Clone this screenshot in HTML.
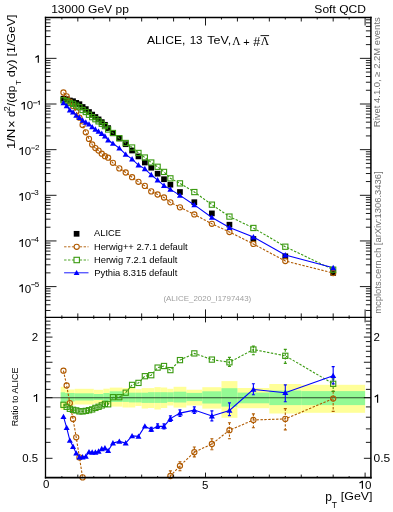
<!DOCTYPE html>
<html><head><meta charset="utf-8"><style>
html,body{margin:0;padding:0;background:#fff;width:393px;height:512px;overflow:hidden;}
svg{display:block;will-change:transform;}
</style></head><body>
<svg width="393" height="512" viewBox="0 0 393 512">
<rect x="0" y="0" width="393" height="512" fill="#fff"/>
<defs><clipPath id="cm"><rect x="45.50" y="17.50" width="325.40" height="299.90"/></clipPath>
<clipPath id="cr"><rect x="45.50" y="317.40" width="325.40" height="160.20"/></clipPath></defs>
<g clip-path="url(#cr)">
<rect x="60.70" y="386.80" width="4.35" height="22.90" fill="#ffff99"/>
<rect x="65.05" y="389.50" width="9.58" height="16.00" fill="#ffff99"/>
<rect x="74.63" y="388.80" width="19.15" height="15.70" fill="#ffff99"/>
<rect x="93.78" y="389.80" width="9.58" height="13.70" fill="#ffff99"/>
<rect x="103.36" y="388.70" width="6.38" height="15.80" fill="#ffff99"/>
<rect x="109.74" y="387.60" width="12.77" height="19.00" fill="#ffff99"/>
<rect x="122.51" y="388.00" width="6.38" height="19.50" fill="#ffff99"/>
<rect x="128.89" y="387.60" width="6.38" height="19.90" fill="#ffff99"/>
<rect x="135.28" y="389.20" width="6.38" height="16.80" fill="#ffff99"/>
<rect x="141.66" y="388.10" width="6.38" height="20.40" fill="#ffff99"/>
<rect x="148.04" y="388.10" width="6.38" height="19.90" fill="#ffff99"/>
<rect x="154.43" y="387.10" width="6.38" height="22.40" fill="#ffff99"/>
<rect x="160.81" y="387.50" width="6.38" height="20.50" fill="#ffff99"/>
<rect x="167.20" y="388.80" width="6.38" height="16.70" fill="#ffff99"/>
<rect x="173.58" y="386.80" width="12.77" height="20.80" fill="#ffff99"/>
<rect x="186.35" y="389.70" width="15.96" height="15.80" fill="#ffff99"/>
<rect x="202.31" y="387.20" width="19.15" height="21.40" fill="#ffff99"/>
<rect x="221.46" y="381.10" width="15.96" height="36.70" fill="#ffff99"/>
<rect x="237.42" y="388.00" width="31.92" height="20.20" fill="#ffff99"/>
<rect x="269.34" y="384.00" width="31.92" height="29.50" fill="#ffff99"/>
<rect x="301.26" y="384.80" width="63.84" height="28.00" fill="#ffff99"/>
<rect x="60.70" y="392.30" width="4.35" height="10.20" fill="#94fa94"/>
<rect x="65.05" y="393.00" width="9.58" height="8.50" fill="#94fa94"/>
<rect x="74.63" y="393.30" width="19.15" height="7.20" fill="#94fa94"/>
<rect x="93.78" y="394.00" width="9.58" height="6.00" fill="#94fa94"/>
<rect x="103.36" y="393.00" width="6.38" height="8.00" fill="#94fa94"/>
<rect x="109.74" y="391.30" width="12.77" height="10.70" fill="#94fa94"/>
<rect x="122.51" y="393.20" width="6.38" height="8.70" fill="#94fa94"/>
<rect x="128.89" y="392.70" width="6.38" height="9.70" fill="#94fa94"/>
<rect x="135.28" y="392.70" width="6.38" height="9.70" fill="#94fa94"/>
<rect x="141.66" y="392.70" width="6.38" height="10.20" fill="#94fa94"/>
<rect x="148.04" y="392.20" width="6.38" height="10.70" fill="#94fa94"/>
<rect x="154.43" y="392.20" width="6.38" height="10.70" fill="#94fa94"/>
<rect x="160.81" y="392.20" width="6.38" height="10.70" fill="#94fa94"/>
<rect x="167.20" y="392.30" width="6.38" height="9.60" fill="#94fa94"/>
<rect x="173.58" y="391.70" width="12.77" height="10.80" fill="#94fa94"/>
<rect x="186.35" y="392.90" width="15.96" height="8.20" fill="#94fa94"/>
<rect x="202.31" y="391.30" width="19.15" height="12.20" fill="#94fa94"/>
<rect x="221.46" y="388.20" width="15.96" height="18.40" fill="#94fa94"/>
<rect x="237.42" y="392.60" width="31.92" height="10.70" fill="#94fa94"/>
<rect x="269.34" y="390.60" width="31.92" height="14.50" fill="#94fa94"/>
<rect x="301.26" y="391.10" width="63.84" height="14.00" fill="#94fa94"/>
</g>
<line x1="45.50" y1="397.70" x2="370.90" y2="397.70" stroke="#000" stroke-opacity="0.7" stroke-width="1.1"/>
<line clip-path="url(#cr)" x1="170.39" y1="470.90" x2="170.39" y2="481.40" stroke="#b05a00" stroke-width="1.1" stroke-dasharray="2.4,1.5"/>
<line clip-path="url(#cr)" x1="168.89" y1="470.90" x2="171.89" y2="470.90" stroke="#b05a00" stroke-width="1.1"/>
<line clip-path="url(#cr)" x1="168.89" y1="481.40" x2="171.89" y2="481.40" stroke="#b05a00" stroke-width="1.1"/>
<line clip-path="url(#cr)" x1="179.96" y1="461.80" x2="179.96" y2="470.70" stroke="#b05a00" stroke-width="1.1" stroke-dasharray="2.4,1.5"/>
<line clip-path="url(#cr)" x1="178.46" y1="461.80" x2="181.46" y2="461.80" stroke="#b05a00" stroke-width="1.1"/>
<line clip-path="url(#cr)" x1="178.46" y1="470.70" x2="181.46" y2="470.70" stroke="#b05a00" stroke-width="1.1"/>
<line clip-path="url(#cr)" x1="194.33" y1="447.00" x2="194.33" y2="456.90" stroke="#b05a00" stroke-width="1.1" stroke-dasharray="2.4,1.5"/>
<line clip-path="url(#cr)" x1="192.83" y1="447.00" x2="195.83" y2="447.00" stroke="#b05a00" stroke-width="1.1"/>
<line clip-path="url(#cr)" x1="192.83" y1="456.90" x2="195.83" y2="456.90" stroke="#b05a00" stroke-width="1.1"/>
<line clip-path="url(#cr)" x1="211.88" y1="438.80" x2="211.88" y2="449.80" stroke="#b05a00" stroke-width="1.1" stroke-dasharray="2.4,1.5"/>
<line clip-path="url(#cr)" x1="210.38" y1="438.80" x2="213.38" y2="438.80" stroke="#b05a00" stroke-width="1.1"/>
<line clip-path="url(#cr)" x1="210.38" y1="449.80" x2="213.38" y2="449.80" stroke="#b05a00" stroke-width="1.1"/>
<line clip-path="url(#cr)" x1="229.44" y1="422.70" x2="229.44" y2="438.80" stroke="#b05a00" stroke-width="1.1" stroke-dasharray="2.4,1.5"/>
<line clip-path="url(#cr)" x1="227.94" y1="422.70" x2="230.94" y2="422.70" stroke="#b05a00" stroke-width="1.1"/>
<line clip-path="url(#cr)" x1="227.94" y1="438.80" x2="230.94" y2="438.80" stroke="#b05a00" stroke-width="1.1"/>
<line clip-path="url(#cr)" x1="253.38" y1="413.90" x2="253.38" y2="427.70" stroke="#b05a00" stroke-width="1.1" stroke-dasharray="2.4,1.5"/>
<line clip-path="url(#cr)" x1="251.88" y1="413.90" x2="254.88" y2="413.90" stroke="#b05a00" stroke-width="1.1"/>
<line clip-path="url(#cr)" x1="251.88" y1="427.70" x2="254.88" y2="427.70" stroke="#b05a00" stroke-width="1.1"/>
<line clip-path="url(#cr)" x1="285.30" y1="408.60" x2="285.30" y2="429.90" stroke="#b05a00" stroke-width="1.1" stroke-dasharray="2.4,1.5"/>
<line clip-path="url(#cr)" x1="283.80" y1="408.60" x2="286.80" y2="408.60" stroke="#b05a00" stroke-width="1.1"/>
<line clip-path="url(#cr)" x1="283.80" y1="429.90" x2="286.80" y2="429.90" stroke="#b05a00" stroke-width="1.1"/>
<line clip-path="url(#cr)" x1="333.18" y1="391.40" x2="333.18" y2="411.40" stroke="#b05a00" stroke-width="1.1" stroke-dasharray="2.4,1.5"/>
<line clip-path="url(#cr)" x1="331.68" y1="391.40" x2="334.68" y2="391.40" stroke="#b05a00" stroke-width="1.1"/>
<line clip-path="url(#cr)" x1="331.68" y1="411.40" x2="334.68" y2="411.40" stroke="#b05a00" stroke-width="1.1"/>
<line clip-path="url(#cr)" x1="229.44" y1="357.40" x2="229.44" y2="366.40" stroke="#3a9a10" stroke-width="1.1" stroke-dasharray="2.4,1.5"/>
<line clip-path="url(#cr)" x1="227.94" y1="357.40" x2="230.94" y2="357.40" stroke="#3a9a10" stroke-width="1.1"/>
<line clip-path="url(#cr)" x1="227.94" y1="366.40" x2="230.94" y2="366.40" stroke="#3a9a10" stroke-width="1.1"/>
<line clip-path="url(#cr)" x1="253.38" y1="346.00" x2="253.38" y2="354.70" stroke="#3a9a10" stroke-width="1.1" stroke-dasharray="2.4,1.5"/>
<line clip-path="url(#cr)" x1="251.88" y1="346.00" x2="254.88" y2="346.00" stroke="#3a9a10" stroke-width="1.1"/>
<line clip-path="url(#cr)" x1="251.88" y1="354.70" x2="254.88" y2="354.70" stroke="#3a9a10" stroke-width="1.1"/>
<line clip-path="url(#cr)" x1="285.30" y1="349.40" x2="285.30" y2="363.40" stroke="#3a9a10" stroke-width="1.1" stroke-dasharray="2.4,1.5"/>
<line clip-path="url(#cr)" x1="283.80" y1="349.40" x2="286.80" y2="349.40" stroke="#3a9a10" stroke-width="1.1"/>
<line clip-path="url(#cr)" x1="283.80" y1="363.40" x2="286.80" y2="363.40" stroke="#3a9a10" stroke-width="1.1"/>
<line clip-path="url(#cr)" x1="333.18" y1="378.90" x2="333.18" y2="391.40" stroke="#3a9a10" stroke-width="1.1" stroke-dasharray="2.4,1.5"/>
<line clip-path="url(#cr)" x1="331.68" y1="378.90" x2="334.68" y2="378.90" stroke="#3a9a10" stroke-width="1.1"/>
<line clip-path="url(#cr)" x1="331.68" y1="391.40" x2="334.68" y2="391.40" stroke="#3a9a10" stroke-width="1.1"/>
<line clip-path="url(#cr)" x1="151.24" y1="427.40" x2="151.24" y2="431.40" stroke="#0000ff" stroke-width="1.1"/>
<line clip-path="url(#cr)" x1="149.74" y1="427.40" x2="152.74" y2="427.40" stroke="#0000ff" stroke-width="1.1"/>
<line clip-path="url(#cr)" x1="149.74" y1="431.40" x2="152.74" y2="431.40" stroke="#0000ff" stroke-width="1.1"/>
<line clip-path="url(#cr)" x1="157.62" y1="423.90" x2="157.62" y2="428.40" stroke="#0000ff" stroke-width="1.1"/>
<line clip-path="url(#cr)" x1="156.12" y1="423.90" x2="159.12" y2="423.90" stroke="#0000ff" stroke-width="1.1"/>
<line clip-path="url(#cr)" x1="156.12" y1="428.40" x2="159.12" y2="428.40" stroke="#0000ff" stroke-width="1.1"/>
<line clip-path="url(#cr)" x1="164.00" y1="423.90" x2="164.00" y2="428.90" stroke="#0000ff" stroke-width="1.1"/>
<line clip-path="url(#cr)" x1="162.50" y1="423.90" x2="165.50" y2="423.90" stroke="#0000ff" stroke-width="1.1"/>
<line clip-path="url(#cr)" x1="162.50" y1="428.90" x2="165.50" y2="428.90" stroke="#0000ff" stroke-width="1.1"/>
<line clip-path="url(#cr)" x1="170.39" y1="415.90" x2="170.39" y2="421.40" stroke="#0000ff" stroke-width="1.1"/>
<line clip-path="url(#cr)" x1="168.89" y1="415.90" x2="171.89" y2="415.90" stroke="#0000ff" stroke-width="1.1"/>
<line clip-path="url(#cr)" x1="168.89" y1="421.40" x2="171.89" y2="421.40" stroke="#0000ff" stroke-width="1.1"/>
<line clip-path="url(#cr)" x1="179.96" y1="409.90" x2="179.96" y2="416.40" stroke="#0000ff" stroke-width="1.1"/>
<line clip-path="url(#cr)" x1="178.46" y1="409.90" x2="181.46" y2="409.90" stroke="#0000ff" stroke-width="1.1"/>
<line clip-path="url(#cr)" x1="178.46" y1="416.40" x2="181.46" y2="416.40" stroke="#0000ff" stroke-width="1.1"/>
<line clip-path="url(#cr)" x1="194.33" y1="406.90" x2="194.33" y2="413.40" stroke="#0000ff" stroke-width="1.1"/>
<line clip-path="url(#cr)" x1="192.83" y1="406.90" x2="195.83" y2="406.90" stroke="#0000ff" stroke-width="1.1"/>
<line clip-path="url(#cr)" x1="192.83" y1="413.40" x2="195.83" y2="413.40" stroke="#0000ff" stroke-width="1.1"/>
<line clip-path="url(#cr)" x1="211.88" y1="410.90" x2="211.88" y2="420.90" stroke="#0000ff" stroke-width="1.1"/>
<line clip-path="url(#cr)" x1="210.38" y1="410.90" x2="213.38" y2="410.90" stroke="#0000ff" stroke-width="1.1"/>
<line clip-path="url(#cr)" x1="210.38" y1="420.90" x2="213.38" y2="420.90" stroke="#0000ff" stroke-width="1.1"/>
<line clip-path="url(#cr)" x1="229.44" y1="402.90" x2="229.44" y2="415.60" stroke="#0000ff" stroke-width="1.1"/>
<line clip-path="url(#cr)" x1="227.94" y1="402.90" x2="230.94" y2="402.90" stroke="#0000ff" stroke-width="1.1"/>
<line clip-path="url(#cr)" x1="227.94" y1="415.60" x2="230.94" y2="415.60" stroke="#0000ff" stroke-width="1.1"/>
<line clip-path="url(#cr)" x1="253.38" y1="383.80" x2="253.38" y2="394.80" stroke="#0000ff" stroke-width="1.1"/>
<line clip-path="url(#cr)" x1="251.88" y1="383.80" x2="254.88" y2="383.80" stroke="#0000ff" stroke-width="1.1"/>
<line clip-path="url(#cr)" x1="251.88" y1="394.80" x2="254.88" y2="394.80" stroke="#0000ff" stroke-width="1.1"/>
<line clip-path="url(#cr)" x1="285.30" y1="384.90" x2="285.30" y2="401.70" stroke="#0000ff" stroke-width="1.1"/>
<line clip-path="url(#cr)" x1="283.80" y1="384.90" x2="286.80" y2="384.90" stroke="#0000ff" stroke-width="1.1"/>
<line clip-path="url(#cr)" x1="283.80" y1="401.70" x2="286.80" y2="401.70" stroke="#0000ff" stroke-width="1.1"/>
<line clip-path="url(#cr)" x1="333.18" y1="366.60" x2="333.18" y2="383.90" stroke="#0000ff" stroke-width="1.1"/>
<line clip-path="url(#cr)" x1="331.68" y1="366.60" x2="334.68" y2="366.60" stroke="#0000ff" stroke-width="1.1"/>
<line clip-path="url(#cr)" x1="331.68" y1="383.90" x2="334.68" y2="383.90" stroke="#0000ff" stroke-width="1.1"/>
<polyline clip-path="url(#cr)" points="63.46,370.70 66.65,385.50 69.84,403.10 73.03,419.00 76.22,437.30 79.42,457.40 82.61,477.40 85.80,500.40 88.99,516.72 92.18,529.95 95.38,535.24 98.57,535.68 101.76,537.44 104.95,536.56 108.14,528.63 112.93,528.63 119.32,530.39 125.70,522.89 132.08,515.84 138.47,510.10 144.85,501.29 151.24,502.61 157.62,489.82 164.00,478.80 170.39,476.00 179.96,465.80 194.33,452.20 211.88,444.00 229.44,430.20 253.38,420.00 285.30,418.90 333.18,398.60" fill="none" stroke="#b05a00" stroke-width="1.1" stroke-dasharray="2.4,1.5"/>
<polyline clip-path="url(#cr)" points="63.46,404.80 66.65,406.80 69.84,408.80 73.03,409.80 76.22,410.40 79.42,411.40 82.61,411.40 85.80,410.90 88.99,410.20 92.18,409.40 95.38,407.90 98.57,406.80 101.76,405.40 104.95,403.90 108.14,404.30 112.93,397.20 119.32,397.20 125.70,392.70 132.08,384.90 138.47,382.90 144.85,376.20 151.24,375.20 157.62,367.60 164.00,366.00 170.39,370.10 179.96,360.10 194.33,353.40 211.88,359.60 229.44,362.30 253.38,349.50 285.30,355.80 333.18,383.80" fill="none" stroke="#3a9a10" stroke-width="1.1" stroke-dasharray="2.4,1.5"/>
<polyline clip-path="url(#cr)" points="63.46,416.70 66.65,427.70 69.84,440.40 73.03,446.50 76.22,453.20 79.42,457.00 82.61,457.00 85.80,456.40 88.99,451.90 92.18,452.30 95.38,452.30 98.57,451.30 101.76,448.80 104.95,448.10 108.14,450.70 112.93,443.10 119.32,441.40 125.70,443.10 132.08,435.90 138.47,436.40 144.85,426.20 151.24,429.40 157.62,426.20 164.00,426.40 170.39,418.60 179.96,413.10 194.33,410.10 211.88,416.00 229.44,410.40 253.38,389.40 285.30,392.70 333.18,375.70" fill="none" stroke="#0000ff" stroke-width="1.1"/>
<circle cx="63.46" cy="370.70" r="2.6" fill="none" stroke="#b05a00" stroke-width="1.1"/>
<circle cx="66.65" cy="385.50" r="2.6" fill="none" stroke="#b05a00" stroke-width="1.1"/>
<circle cx="69.84" cy="403.10" r="2.6" fill="none" stroke="#b05a00" stroke-width="1.1"/>
<circle cx="73.03" cy="419.00" r="2.6" fill="none" stroke="#b05a00" stroke-width="1.1"/>
<circle cx="76.22" cy="437.30" r="2.6" fill="none" stroke="#b05a00" stroke-width="1.1"/>
<circle cx="79.42" cy="457.40" r="2.6" fill="none" stroke="#b05a00" stroke-width="1.1"/>
<circle cx="82.61" cy="477.40" r="2.6" fill="none" stroke="#b05a00" stroke-width="1.1"/>
<circle cx="170.39" cy="476.00" r="2.6" fill="none" stroke="#b05a00" stroke-width="1.1"/>
<circle cx="179.96" cy="465.80" r="2.6" fill="none" stroke="#b05a00" stroke-width="1.1"/>
<circle cx="194.33" cy="452.20" r="2.6" fill="none" stroke="#b05a00" stroke-width="1.1"/>
<circle cx="211.88" cy="444.00" r="2.6" fill="none" stroke="#b05a00" stroke-width="1.1"/>
<circle cx="229.44" cy="430.20" r="2.6" fill="none" stroke="#b05a00" stroke-width="1.1"/>
<circle cx="253.38" cy="420.00" r="2.6" fill="none" stroke="#b05a00" stroke-width="1.1"/>
<circle cx="285.30" cy="418.90" r="2.6" fill="none" stroke="#b05a00" stroke-width="1.1"/>
<circle cx="333.18" cy="398.60" r="2.6" fill="none" stroke="#b05a00" stroke-width="1.1"/>
<rect x="60.86" y="402.20" width="5.2" height="5.2" fill="none" stroke="#3a9a10" stroke-width="1.1"/>
<rect x="64.05" y="404.20" width="5.2" height="5.2" fill="none" stroke="#3a9a10" stroke-width="1.1"/>
<rect x="67.24" y="406.20" width="5.2" height="5.2" fill="none" stroke="#3a9a10" stroke-width="1.1"/>
<rect x="70.43" y="407.20" width="5.2" height="5.2" fill="none" stroke="#3a9a10" stroke-width="1.1"/>
<rect x="73.62" y="407.80" width="5.2" height="5.2" fill="none" stroke="#3a9a10" stroke-width="1.1"/>
<rect x="76.82" y="408.80" width="5.2" height="5.2" fill="none" stroke="#3a9a10" stroke-width="1.1"/>
<rect x="80.01" y="408.80" width="5.2" height="5.2" fill="none" stroke="#3a9a10" stroke-width="1.1"/>
<rect x="83.20" y="408.30" width="5.2" height="5.2" fill="none" stroke="#3a9a10" stroke-width="1.1"/>
<rect x="86.39" y="407.60" width="5.2" height="5.2" fill="none" stroke="#3a9a10" stroke-width="1.1"/>
<rect x="89.58" y="406.80" width="5.2" height="5.2" fill="none" stroke="#3a9a10" stroke-width="1.1"/>
<rect x="92.78" y="405.30" width="5.2" height="5.2" fill="none" stroke="#3a9a10" stroke-width="1.1"/>
<rect x="95.97" y="404.20" width="5.2" height="5.2" fill="none" stroke="#3a9a10" stroke-width="1.1"/>
<rect x="99.16" y="402.80" width="5.2" height="5.2" fill="none" stroke="#3a9a10" stroke-width="1.1"/>
<rect x="102.35" y="401.30" width="5.2" height="5.2" fill="none" stroke="#3a9a10" stroke-width="1.1"/>
<rect x="105.54" y="401.70" width="5.2" height="5.2" fill="none" stroke="#3a9a10" stroke-width="1.1"/>
<rect x="110.33" y="394.60" width="5.2" height="5.2" fill="none" stroke="#3a9a10" stroke-width="1.1"/>
<rect x="116.72" y="394.60" width="5.2" height="5.2" fill="none" stroke="#3a9a10" stroke-width="1.1"/>
<rect x="123.10" y="390.10" width="5.2" height="5.2" fill="none" stroke="#3a9a10" stroke-width="1.1"/>
<rect x="129.48" y="382.30" width="5.2" height="5.2" fill="none" stroke="#3a9a10" stroke-width="1.1"/>
<rect x="135.87" y="380.30" width="5.2" height="5.2" fill="none" stroke="#3a9a10" stroke-width="1.1"/>
<rect x="142.25" y="373.60" width="5.2" height="5.2" fill="none" stroke="#3a9a10" stroke-width="1.1"/>
<rect x="148.64" y="372.60" width="5.2" height="5.2" fill="none" stroke="#3a9a10" stroke-width="1.1"/>
<rect x="155.02" y="365.00" width="5.2" height="5.2" fill="none" stroke="#3a9a10" stroke-width="1.1"/>
<rect x="161.40" y="363.40" width="5.2" height="5.2" fill="none" stroke="#3a9a10" stroke-width="1.1"/>
<rect x="167.79" y="367.50" width="5.2" height="5.2" fill="none" stroke="#3a9a10" stroke-width="1.1"/>
<rect x="177.36" y="357.50" width="5.2" height="5.2" fill="none" stroke="#3a9a10" stroke-width="1.1"/>
<rect x="191.73" y="350.80" width="5.2" height="5.2" fill="none" stroke="#3a9a10" stroke-width="1.1"/>
<rect x="209.28" y="357.00" width="5.2" height="5.2" fill="none" stroke="#3a9a10" stroke-width="1.1"/>
<rect x="226.84" y="359.70" width="5.2" height="5.2" fill="none" stroke="#3a9a10" stroke-width="1.1"/>
<rect x="250.78" y="346.90" width="5.2" height="5.2" fill="none" stroke="#3a9a10" stroke-width="1.1"/>
<rect x="282.70" y="353.20" width="5.2" height="5.2" fill="none" stroke="#3a9a10" stroke-width="1.1"/>
<rect x="330.58" y="381.20" width="5.2" height="5.2" fill="none" stroke="#3a9a10" stroke-width="1.1"/>
<path d="M63.46,413.70 L66.46,419.10 L60.46,419.10 Z" fill="#0000ff"/>
<path d="M66.65,424.70 L69.65,430.10 L63.65,430.10 Z" fill="#0000ff"/>
<path d="M69.84,437.40 L72.84,442.80 L66.84,442.80 Z" fill="#0000ff"/>
<path d="M73.03,443.50 L76.03,448.90 L70.03,448.90 Z" fill="#0000ff"/>
<path d="M76.22,450.20 L79.22,455.60 L73.22,455.60 Z" fill="#0000ff"/>
<path d="M79.42,454.00 L82.42,459.40 L76.42,459.40 Z" fill="#0000ff"/>
<path d="M82.61,454.00 L85.61,459.40 L79.61,459.40 Z" fill="#0000ff"/>
<path d="M85.80,453.40 L88.80,458.80 L82.80,458.80 Z" fill="#0000ff"/>
<path d="M88.99,448.90 L91.99,454.30 L85.99,454.30 Z" fill="#0000ff"/>
<path d="M92.18,449.30 L95.18,454.70 L89.18,454.70 Z" fill="#0000ff"/>
<path d="M95.38,449.30 L98.38,454.70 L92.38,454.70 Z" fill="#0000ff"/>
<path d="M98.57,448.30 L101.57,453.70 L95.57,453.70 Z" fill="#0000ff"/>
<path d="M101.76,445.80 L104.76,451.20 L98.76,451.20 Z" fill="#0000ff"/>
<path d="M104.95,445.10 L107.95,450.50 L101.95,450.50 Z" fill="#0000ff"/>
<path d="M108.14,447.70 L111.14,453.10 L105.14,453.10 Z" fill="#0000ff"/>
<path d="M112.93,440.10 L115.93,445.50 L109.93,445.50 Z" fill="#0000ff"/>
<path d="M119.32,438.40 L122.32,443.80 L116.32,443.80 Z" fill="#0000ff"/>
<path d="M125.70,440.10 L128.70,445.50 L122.70,445.50 Z" fill="#0000ff"/>
<path d="M132.08,432.90 L135.08,438.30 L129.08,438.30 Z" fill="#0000ff"/>
<path d="M138.47,433.40 L141.47,438.80 L135.47,438.80 Z" fill="#0000ff"/>
<path d="M144.85,423.20 L147.85,428.60 L141.85,428.60 Z" fill="#0000ff"/>
<path d="M151.24,426.40 L154.24,431.80 L148.24,431.80 Z" fill="#0000ff"/>
<path d="M157.62,423.20 L160.62,428.60 L154.62,428.60 Z" fill="#0000ff"/>
<path d="M164.00,423.40 L167.00,428.80 L161.00,428.80 Z" fill="#0000ff"/>
<path d="M170.39,415.60 L173.39,421.00 L167.39,421.00 Z" fill="#0000ff"/>
<path d="M179.96,410.10 L182.96,415.50 L176.96,415.50 Z" fill="#0000ff"/>
<path d="M194.33,407.10 L197.33,412.50 L191.33,412.50 Z" fill="#0000ff"/>
<path d="M211.88,413.00 L214.88,418.40 L208.88,418.40 Z" fill="#0000ff"/>
<path d="M229.44,407.40 L232.44,412.80 L226.44,412.80 Z" fill="#0000ff"/>
<path d="M253.38,386.40 L256.38,391.80 L250.38,391.80 Z" fill="#0000ff"/>
<path d="M285.30,389.70 L288.30,395.10 L282.30,395.10 Z" fill="#0000ff"/>
<path d="M333.18,372.70 L336.18,378.10 L330.18,378.10 Z" fill="#0000ff"/>
<rect clip-path="url(#cm)" x="60.61" y="95.85" width="5.7" height="5.7" fill="#000"/>
<rect clip-path="url(#cm)" x="63.80" y="96.35" width="5.7" height="5.7" fill="#000"/>
<rect clip-path="url(#cm)" x="66.99" y="97.65" width="5.7" height="5.7" fill="#000"/>
<rect clip-path="url(#cm)" x="70.18" y="98.35" width="5.7" height="5.7" fill="#000"/>
<rect clip-path="url(#cm)" x="73.37" y="100.05" width="5.7" height="5.7" fill="#000"/>
<rect clip-path="url(#cm)" x="76.57" y="101.35" width="5.7" height="5.7" fill="#000"/>
<rect clip-path="url(#cm)" x="79.76" y="104.15" width="5.7" height="5.7" fill="#000"/>
<rect clip-path="url(#cm)" x="82.95" y="106.25" width="5.7" height="5.7" fill="#000"/>
<rect clip-path="url(#cm)" x="86.14" y="109.15" width="5.7" height="5.7" fill="#000"/>
<rect clip-path="url(#cm)" x="89.33" y="111.75" width="5.7" height="5.7" fill="#000"/>
<rect clip-path="url(#cm)" x="92.53" y="114.15" width="5.7" height="5.7" fill="#000"/>
<rect clip-path="url(#cm)" x="95.72" y="116.55" width="5.7" height="5.7" fill="#000"/>
<rect clip-path="url(#cm)" x="98.91" y="119.25" width="5.7" height="5.7" fill="#000"/>
<rect clip-path="url(#cm)" x="102.10" y="121.95" width="5.7" height="5.7" fill="#000"/>
<rect clip-path="url(#cm)" x="105.29" y="125.25" width="5.7" height="5.7" fill="#000"/>
<rect clip-path="url(#cm)" x="110.08" y="130.35" width="5.7" height="5.7" fill="#000"/>
<rect clip-path="url(#cm)" x="116.47" y="135.55" width="5.7" height="5.7" fill="#000"/>
<rect clip-path="url(#cm)" x="122.85" y="141.35" width="5.7" height="5.7" fill="#000"/>
<rect clip-path="url(#cm)" x="129.23" y="147.65" width="5.7" height="5.7" fill="#000"/>
<rect clip-path="url(#cm)" x="135.62" y="153.55" width="5.7" height="5.7" fill="#000"/>
<rect clip-path="url(#cm)" x="142.00" y="159.65" width="5.7" height="5.7" fill="#000"/>
<rect clip-path="url(#cm)" x="148.39" y="164.85" width="5.7" height="5.7" fill="#000"/>
<rect clip-path="url(#cm)" x="154.77" y="170.85" width="5.7" height="5.7" fill="#000"/>
<rect clip-path="url(#cm)" x="161.15" y="176.35" width="5.7" height="5.7" fill="#000"/>
<rect clip-path="url(#cm)" x="167.54" y="181.85" width="5.7" height="5.7" fill="#000"/>
<rect clip-path="url(#cm)" x="177.11" y="189.15" width="5.7" height="5.7" fill="#000"/>
<rect clip-path="url(#cm)" x="191.48" y="199.35" width="5.7" height="5.7" fill="#000"/>
<rect clip-path="url(#cm)" x="209.03" y="210.55" width="5.7" height="5.7" fill="#000"/>
<rect clip-path="url(#cm)" x="226.59" y="221.85" width="5.7" height="5.7" fill="#000"/>
<rect clip-path="url(#cm)" x="250.53" y="236.15" width="5.7" height="5.7" fill="#000"/>
<rect clip-path="url(#cm)" x="282.45" y="253.45" width="5.7" height="5.7" fill="#000"/>
<rect clip-path="url(#cm)" x="330.33" y="270.05" width="5.7" height="5.7" fill="#000"/>
<polyline clip-path="url(#cm)" points="63.46,92.49 66.65,96.34 69.84,101.63 73.03,105.94 76.22,111.79 79.42,117.65 82.61,124.98 85.80,132.30 88.99,138.90 92.18,144.50 95.38,148.10 98.57,150.60 101.76,153.70 104.95,156.20 108.14,157.70 112.93,162.80 119.32,168.40 125.70,172.50 132.08,177.20 138.47,181.80 144.85,185.90 151.24,191.40 157.62,194.50 164.00,197.50 170.39,202.37 179.96,207.35 194.33,214.47 211.88,223.81 229.44,231.98 253.38,243.97 285.30,261.02 333.18,273.01" fill="none" stroke="#b05a00" stroke-width="1.1" stroke-dasharray="2.4,1.5"/>
<polyline clip-path="url(#cm)" points="63.46,100.22 66.65,101.17 69.84,102.93 73.03,103.85 76.22,105.69 79.42,107.22 82.61,110.02 85.80,112.00 88.99,114.74 92.18,117.16 95.38,119.22 98.57,121.37 101.76,123.76 104.95,126.12 108.14,129.51 112.93,133.00 119.32,138.20 125.70,142.98 132.08,147.51 138.47,152.95 144.85,157.53 151.24,162.51 157.62,166.78 164.00,171.92 170.39,178.35 179.96,183.38 194.33,192.06 211.88,204.67 229.44,216.58 253.38,227.98 285.30,246.71 333.18,269.66" fill="none" stroke="#3a9a10" stroke-width="1.1" stroke-dasharray="2.4,1.5"/>
<polyline clip-path="url(#cm)" points="63.46,102.92 66.65,105.91 69.84,110.09 73.03,112.18 76.22,115.40 79.42,117.56 82.61,120.36 85.80,122.32 88.99,124.20 92.18,126.89 95.38,129.29 98.57,131.46 101.76,133.60 104.95,136.14 108.14,140.03 112.93,143.40 119.32,148.22 125.70,154.40 132.08,159.07 138.47,165.09 144.85,168.87 151.24,174.80 157.62,180.07 164.00,185.62 170.39,189.35 179.96,195.40 194.33,204.92 211.88,217.46 229.44,227.49 253.38,237.03 285.30,255.08 333.18,267.82" fill="none" stroke="#0000ff" stroke-width="1.1"/>
<circle clip-path="url(#cm)" cx="63.46" cy="92.49" r="2.6" fill="none" stroke="#b05a00" stroke-width="1.1"/>
<circle clip-path="url(#cm)" cx="66.65" cy="96.34" r="2.6" fill="none" stroke="#b05a00" stroke-width="1.1"/>
<circle clip-path="url(#cm)" cx="69.84" cy="101.63" r="2.6" fill="none" stroke="#b05a00" stroke-width="1.1"/>
<circle clip-path="url(#cm)" cx="73.03" cy="105.94" r="2.6" fill="none" stroke="#b05a00" stroke-width="1.1"/>
<circle clip-path="url(#cm)" cx="76.22" cy="111.79" r="2.6" fill="none" stroke="#b05a00" stroke-width="1.1"/>
<circle clip-path="url(#cm)" cx="79.42" cy="117.65" r="2.6" fill="none" stroke="#b05a00" stroke-width="1.1"/>
<circle clip-path="url(#cm)" cx="82.61" cy="124.98" r="2.6" fill="none" stroke="#b05a00" stroke-width="1.1"/>
<circle clip-path="url(#cm)" cx="85.80" cy="132.30" r="2.6" fill="none" stroke="#b05a00" stroke-width="1.1"/>
<circle clip-path="url(#cm)" cx="88.99" cy="138.90" r="2.6" fill="none" stroke="#b05a00" stroke-width="1.1"/>
<circle clip-path="url(#cm)" cx="92.18" cy="144.50" r="2.6" fill="none" stroke="#b05a00" stroke-width="1.1"/>
<circle clip-path="url(#cm)" cx="95.38" cy="148.10" r="2.6" fill="none" stroke="#b05a00" stroke-width="1.1"/>
<circle clip-path="url(#cm)" cx="98.57" cy="150.60" r="2.6" fill="none" stroke="#b05a00" stroke-width="1.1"/>
<circle clip-path="url(#cm)" cx="101.76" cy="153.70" r="2.6" fill="none" stroke="#b05a00" stroke-width="1.1"/>
<circle clip-path="url(#cm)" cx="104.95" cy="156.20" r="2.6" fill="none" stroke="#b05a00" stroke-width="1.1"/>
<circle clip-path="url(#cm)" cx="108.14" cy="157.70" r="2.6" fill="none" stroke="#b05a00" stroke-width="1.1"/>
<circle clip-path="url(#cm)" cx="112.93" cy="162.80" r="2.6" fill="none" stroke="#b05a00" stroke-width="1.1"/>
<circle clip-path="url(#cm)" cx="119.32" cy="168.40" r="2.6" fill="none" stroke="#b05a00" stroke-width="1.1"/>
<circle clip-path="url(#cm)" cx="125.70" cy="172.50" r="2.6" fill="none" stroke="#b05a00" stroke-width="1.1"/>
<circle clip-path="url(#cm)" cx="132.08" cy="177.20" r="2.6" fill="none" stroke="#b05a00" stroke-width="1.1"/>
<circle clip-path="url(#cm)" cx="138.47" cy="181.80" r="2.6" fill="none" stroke="#b05a00" stroke-width="1.1"/>
<circle clip-path="url(#cm)" cx="144.85" cy="185.90" r="2.6" fill="none" stroke="#b05a00" stroke-width="1.1"/>
<circle clip-path="url(#cm)" cx="151.24" cy="191.40" r="2.6" fill="none" stroke="#b05a00" stroke-width="1.1"/>
<circle clip-path="url(#cm)" cx="157.62" cy="194.50" r="2.6" fill="none" stroke="#b05a00" stroke-width="1.1"/>
<circle clip-path="url(#cm)" cx="164.00" cy="197.50" r="2.6" fill="none" stroke="#b05a00" stroke-width="1.1"/>
<circle clip-path="url(#cm)" cx="170.39" cy="202.37" r="2.6" fill="none" stroke="#b05a00" stroke-width="1.1"/>
<circle clip-path="url(#cm)" cx="179.96" cy="207.35" r="2.6" fill="none" stroke="#b05a00" stroke-width="1.1"/>
<circle clip-path="url(#cm)" cx="194.33" cy="214.47" r="2.6" fill="none" stroke="#b05a00" stroke-width="1.1"/>
<circle clip-path="url(#cm)" cx="211.88" cy="223.81" r="2.6" fill="none" stroke="#b05a00" stroke-width="1.1"/>
<circle clip-path="url(#cm)" cx="229.44" cy="231.98" r="2.6" fill="none" stroke="#b05a00" stroke-width="1.1"/>
<circle clip-path="url(#cm)" cx="253.38" cy="243.97" r="2.6" fill="none" stroke="#b05a00" stroke-width="1.1"/>
<circle clip-path="url(#cm)" cx="285.30" cy="261.02" r="2.6" fill="none" stroke="#b05a00" stroke-width="1.1"/>
<circle clip-path="url(#cm)" cx="333.18" cy="273.01" r="2.6" fill="none" stroke="#b05a00" stroke-width="1.1"/>
<rect clip-path="url(#cm)" x="60.86" y="97.62" width="5.2" height="5.2" fill="none" stroke="#3a9a10" stroke-width="1.1"/>
<rect clip-path="url(#cm)" x="64.05" y="98.57" width="5.2" height="5.2" fill="none" stroke="#3a9a10" stroke-width="1.1"/>
<rect clip-path="url(#cm)" x="67.24" y="100.33" width="5.2" height="5.2" fill="none" stroke="#3a9a10" stroke-width="1.1"/>
<rect clip-path="url(#cm)" x="70.43" y="101.25" width="5.2" height="5.2" fill="none" stroke="#3a9a10" stroke-width="1.1"/>
<rect clip-path="url(#cm)" x="73.62" y="103.09" width="5.2" height="5.2" fill="none" stroke="#3a9a10" stroke-width="1.1"/>
<rect clip-path="url(#cm)" x="76.82" y="104.62" width="5.2" height="5.2" fill="none" stroke="#3a9a10" stroke-width="1.1"/>
<rect clip-path="url(#cm)" x="80.01" y="107.42" width="5.2" height="5.2" fill="none" stroke="#3a9a10" stroke-width="1.1"/>
<rect clip-path="url(#cm)" x="83.20" y="109.40" width="5.2" height="5.2" fill="none" stroke="#3a9a10" stroke-width="1.1"/>
<rect clip-path="url(#cm)" x="86.39" y="112.14" width="5.2" height="5.2" fill="none" stroke="#3a9a10" stroke-width="1.1"/>
<rect clip-path="url(#cm)" x="89.58" y="114.56" width="5.2" height="5.2" fill="none" stroke="#3a9a10" stroke-width="1.1"/>
<rect clip-path="url(#cm)" x="92.78" y="116.62" width="5.2" height="5.2" fill="none" stroke="#3a9a10" stroke-width="1.1"/>
<rect clip-path="url(#cm)" x="95.97" y="118.77" width="5.2" height="5.2" fill="none" stroke="#3a9a10" stroke-width="1.1"/>
<rect clip-path="url(#cm)" x="99.16" y="121.16" width="5.2" height="5.2" fill="none" stroke="#3a9a10" stroke-width="1.1"/>
<rect clip-path="url(#cm)" x="102.35" y="123.52" width="5.2" height="5.2" fill="none" stroke="#3a9a10" stroke-width="1.1"/>
<rect clip-path="url(#cm)" x="105.54" y="126.91" width="5.2" height="5.2" fill="none" stroke="#3a9a10" stroke-width="1.1"/>
<rect clip-path="url(#cm)" x="110.33" y="130.40" width="5.2" height="5.2" fill="none" stroke="#3a9a10" stroke-width="1.1"/>
<rect clip-path="url(#cm)" x="116.72" y="135.60" width="5.2" height="5.2" fill="none" stroke="#3a9a10" stroke-width="1.1"/>
<rect clip-path="url(#cm)" x="123.10" y="140.38" width="5.2" height="5.2" fill="none" stroke="#3a9a10" stroke-width="1.1"/>
<rect clip-path="url(#cm)" x="129.48" y="144.91" width="5.2" height="5.2" fill="none" stroke="#3a9a10" stroke-width="1.1"/>
<rect clip-path="url(#cm)" x="135.87" y="150.35" width="5.2" height="5.2" fill="none" stroke="#3a9a10" stroke-width="1.1"/>
<rect clip-path="url(#cm)" x="142.25" y="154.93" width="5.2" height="5.2" fill="none" stroke="#3a9a10" stroke-width="1.1"/>
<rect clip-path="url(#cm)" x="148.64" y="159.91" width="5.2" height="5.2" fill="none" stroke="#3a9a10" stroke-width="1.1"/>
<rect clip-path="url(#cm)" x="155.02" y="164.18" width="5.2" height="5.2" fill="none" stroke="#3a9a10" stroke-width="1.1"/>
<rect clip-path="url(#cm)" x="161.40" y="169.32" width="5.2" height="5.2" fill="none" stroke="#3a9a10" stroke-width="1.1"/>
<rect clip-path="url(#cm)" x="167.79" y="175.75" width="5.2" height="5.2" fill="none" stroke="#3a9a10" stroke-width="1.1"/>
<rect clip-path="url(#cm)" x="177.36" y="180.78" width="5.2" height="5.2" fill="none" stroke="#3a9a10" stroke-width="1.1"/>
<rect clip-path="url(#cm)" x="191.73" y="189.46" width="5.2" height="5.2" fill="none" stroke="#3a9a10" stroke-width="1.1"/>
<rect clip-path="url(#cm)" x="209.28" y="202.07" width="5.2" height="5.2" fill="none" stroke="#3a9a10" stroke-width="1.1"/>
<rect clip-path="url(#cm)" x="226.84" y="213.98" width="5.2" height="5.2" fill="none" stroke="#3a9a10" stroke-width="1.1"/>
<rect clip-path="url(#cm)" x="250.78" y="225.38" width="5.2" height="5.2" fill="none" stroke="#3a9a10" stroke-width="1.1"/>
<rect clip-path="url(#cm)" x="282.70" y="244.11" width="5.2" height="5.2" fill="none" stroke="#3a9a10" stroke-width="1.1"/>
<rect clip-path="url(#cm)" x="330.58" y="267.06" width="5.2" height="5.2" fill="none" stroke="#3a9a10" stroke-width="1.1"/>
<path clip-path="url(#cm)" d="M63.46,99.92 L66.46,105.32 L60.46,105.32 Z" fill="#0000ff"/>
<path clip-path="url(#cm)" d="M66.65,102.91 L69.65,108.31 L63.65,108.31 Z" fill="#0000ff"/>
<path clip-path="url(#cm)" d="M69.84,107.09 L72.84,112.49 L66.84,112.49 Z" fill="#0000ff"/>
<path clip-path="url(#cm)" d="M73.03,109.18 L76.03,114.58 L70.03,114.58 Z" fill="#0000ff"/>
<path clip-path="url(#cm)" d="M76.22,112.40 L79.22,117.80 L73.22,117.80 Z" fill="#0000ff"/>
<path clip-path="url(#cm)" d="M79.42,114.56 L82.42,119.96 L76.42,119.96 Z" fill="#0000ff"/>
<path clip-path="url(#cm)" d="M82.61,117.36 L85.61,122.76 L79.61,122.76 Z" fill="#0000ff"/>
<path clip-path="url(#cm)" d="M85.80,119.32 L88.80,124.72 L82.80,124.72 Z" fill="#0000ff"/>
<path clip-path="url(#cm)" d="M88.99,121.20 L91.99,126.60 L85.99,126.60 Z" fill="#0000ff"/>
<path clip-path="url(#cm)" d="M92.18,123.89 L95.18,129.29 L89.18,129.29 Z" fill="#0000ff"/>
<path clip-path="url(#cm)" d="M95.38,126.29 L98.38,131.69 L92.38,131.69 Z" fill="#0000ff"/>
<path clip-path="url(#cm)" d="M98.57,128.46 L101.57,133.86 L95.57,133.86 Z" fill="#0000ff"/>
<path clip-path="url(#cm)" d="M101.76,130.60 L104.76,136.00 L98.76,136.00 Z" fill="#0000ff"/>
<path clip-path="url(#cm)" d="M104.95,133.14 L107.95,138.54 L101.95,138.54 Z" fill="#0000ff"/>
<path clip-path="url(#cm)" d="M108.14,137.03 L111.14,142.43 L105.14,142.43 Z" fill="#0000ff"/>
<path clip-path="url(#cm)" d="M112.93,140.40 L115.93,145.80 L109.93,145.80 Z" fill="#0000ff"/>
<path clip-path="url(#cm)" d="M119.32,145.22 L122.32,150.62 L116.32,150.62 Z" fill="#0000ff"/>
<path clip-path="url(#cm)" d="M125.70,151.40 L128.70,156.80 L122.70,156.80 Z" fill="#0000ff"/>
<path clip-path="url(#cm)" d="M132.08,156.07 L135.08,161.47 L129.08,161.47 Z" fill="#0000ff"/>
<path clip-path="url(#cm)" d="M138.47,162.09 L141.47,167.49 L135.47,167.49 Z" fill="#0000ff"/>
<path clip-path="url(#cm)" d="M144.85,165.87 L147.85,171.27 L141.85,171.27 Z" fill="#0000ff"/>
<path clip-path="url(#cm)" d="M151.24,171.80 L154.24,177.20 L148.24,177.20 Z" fill="#0000ff"/>
<path clip-path="url(#cm)" d="M157.62,177.07 L160.62,182.47 L154.62,182.47 Z" fill="#0000ff"/>
<path clip-path="url(#cm)" d="M164.00,182.62 L167.00,188.02 L161.00,188.02 Z" fill="#0000ff"/>
<path clip-path="url(#cm)" d="M170.39,186.35 L173.39,191.75 L167.39,191.75 Z" fill="#0000ff"/>
<path clip-path="url(#cm)" d="M179.96,192.40 L182.96,197.80 L176.96,197.80 Z" fill="#0000ff"/>
<path clip-path="url(#cm)" d="M194.33,201.92 L197.33,207.32 L191.33,207.32 Z" fill="#0000ff"/>
<path clip-path="url(#cm)" d="M211.88,214.46 L214.88,219.86 L208.88,219.86 Z" fill="#0000ff"/>
<path clip-path="url(#cm)" d="M229.44,224.49 L232.44,229.89 L226.44,229.89 Z" fill="#0000ff"/>
<path clip-path="url(#cm)" d="M253.38,234.03 L256.38,239.43 L250.38,239.43 Z" fill="#0000ff"/>
<path clip-path="url(#cm)" d="M285.30,252.08 L288.30,257.48 L282.30,257.48 Z" fill="#0000ff"/>
<path clip-path="url(#cm)" d="M333.18,264.82 L336.18,270.22 L330.18,270.22 Z" fill="#0000ff"/>
<g fill="none" stroke="#000">
<line x1="44.85" y1="17.50" x2="371.65" y2="17.50" stroke-width="1.3"/>
<line x1="44.85" y1="317.40" x2="371.65" y2="317.40" stroke-width="1.3"/>
<line x1="44.85" y1="477.60" x2="371.65" y2="477.60" stroke-width="1.6"/>
<line x1="45.50" y1="16.85" x2="45.50" y2="478.40" stroke-width="1.3"/>
<line x1="370.90" y1="16.85" x2="370.90" y2="478.40" stroke-width="1.5"/>
</g>
<g stroke="#000"><line x1="45.50" y1="310.47" x2="50.50" y2="310.47" stroke-width="0.90"/><line x1="370.90" y1="310.47" x2="365.90" y2="310.47" stroke-width="0.90"/><line x1="45.50" y1="304.77" x2="50.50" y2="304.77" stroke-width="0.90"/><line x1="370.90" y1="304.77" x2="365.90" y2="304.77" stroke-width="0.90"/><line x1="45.50" y1="300.34" x2="50.50" y2="300.34" stroke-width="0.90"/><line x1="370.90" y1="300.34" x2="365.90" y2="300.34" stroke-width="0.90"/><line x1="45.50" y1="296.73" x2="50.50" y2="296.73" stroke-width="0.90"/><line x1="370.90" y1="296.73" x2="365.90" y2="296.73" stroke-width="0.90"/><line x1="45.50" y1="293.67" x2="50.50" y2="293.67" stroke-width="0.90"/><line x1="370.90" y1="293.67" x2="365.90" y2="293.67" stroke-width="0.90"/><line x1="45.50" y1="291.02" x2="50.50" y2="291.02" stroke-width="0.90"/><line x1="370.90" y1="291.02" x2="365.90" y2="291.02" stroke-width="0.90"/><line x1="45.50" y1="288.69" x2="50.50" y2="288.69" stroke-width="0.90"/><line x1="370.90" y1="288.69" x2="365.90" y2="288.69" stroke-width="0.90"/><line x1="45.50" y1="286.60" x2="56.50" y2="286.60" stroke-width="0.90"/><line x1="370.90" y1="286.60" x2="359.90" y2="286.60" stroke-width="0.90"/><line x1="45.50" y1="272.86" x2="50.50" y2="272.86" stroke-width="0.90"/><line x1="370.90" y1="272.86" x2="365.90" y2="272.86" stroke-width="0.90"/><line x1="45.50" y1="264.82" x2="50.50" y2="264.82" stroke-width="0.90"/><line x1="370.90" y1="264.82" x2="365.90" y2="264.82" stroke-width="0.90"/><line x1="45.50" y1="259.12" x2="50.50" y2="259.12" stroke-width="0.90"/><line x1="370.90" y1="259.12" x2="365.90" y2="259.12" stroke-width="0.90"/><line x1="45.50" y1="254.69" x2="50.50" y2="254.69" stroke-width="0.90"/><line x1="370.90" y1="254.69" x2="365.90" y2="254.69" stroke-width="0.90"/><line x1="45.50" y1="251.08" x2="50.50" y2="251.08" stroke-width="0.90"/><line x1="370.90" y1="251.08" x2="365.90" y2="251.08" stroke-width="0.90"/><line x1="45.50" y1="248.02" x2="50.50" y2="248.02" stroke-width="0.90"/><line x1="370.90" y1="248.02" x2="365.90" y2="248.02" stroke-width="0.90"/><line x1="45.50" y1="245.37" x2="50.50" y2="245.37" stroke-width="0.90"/><line x1="370.90" y1="245.37" x2="365.90" y2="245.37" stroke-width="0.90"/><line x1="45.50" y1="243.04" x2="50.50" y2="243.04" stroke-width="0.90"/><line x1="370.90" y1="243.04" x2="365.90" y2="243.04" stroke-width="0.90"/><line x1="45.50" y1="240.95" x2="56.50" y2="240.95" stroke-width="0.90"/><line x1="370.90" y1="240.95" x2="359.90" y2="240.95" stroke-width="0.90"/><line x1="45.50" y1="227.21" x2="50.50" y2="227.21" stroke-width="0.90"/><line x1="370.90" y1="227.21" x2="365.90" y2="227.21" stroke-width="0.90"/><line x1="45.50" y1="219.17" x2="50.50" y2="219.17" stroke-width="0.90"/><line x1="370.90" y1="219.17" x2="365.90" y2="219.17" stroke-width="0.90"/><line x1="45.50" y1="213.47" x2="50.50" y2="213.47" stroke-width="0.90"/><line x1="370.90" y1="213.47" x2="365.90" y2="213.47" stroke-width="0.90"/><line x1="45.50" y1="209.04" x2="50.50" y2="209.04" stroke-width="0.90"/><line x1="370.90" y1="209.04" x2="365.90" y2="209.04" stroke-width="0.90"/><line x1="45.50" y1="205.43" x2="50.50" y2="205.43" stroke-width="0.90"/><line x1="370.90" y1="205.43" x2="365.90" y2="205.43" stroke-width="0.90"/><line x1="45.50" y1="202.37" x2="50.50" y2="202.37" stroke-width="0.90"/><line x1="370.90" y1="202.37" x2="365.90" y2="202.37" stroke-width="0.90"/><line x1="45.50" y1="199.72" x2="50.50" y2="199.72" stroke-width="0.90"/><line x1="370.90" y1="199.72" x2="365.90" y2="199.72" stroke-width="0.90"/><line x1="45.50" y1="197.39" x2="50.50" y2="197.39" stroke-width="0.90"/><line x1="370.90" y1="197.39" x2="365.90" y2="197.39" stroke-width="0.90"/><line x1="45.50" y1="195.30" x2="56.50" y2="195.30" stroke-width="0.90"/><line x1="370.90" y1="195.30" x2="359.90" y2="195.30" stroke-width="0.90"/><line x1="45.50" y1="181.56" x2="50.50" y2="181.56" stroke-width="0.90"/><line x1="370.90" y1="181.56" x2="365.90" y2="181.56" stroke-width="0.90"/><line x1="45.50" y1="173.52" x2="50.50" y2="173.52" stroke-width="0.90"/><line x1="370.90" y1="173.52" x2="365.90" y2="173.52" stroke-width="0.90"/><line x1="45.50" y1="167.82" x2="50.50" y2="167.82" stroke-width="0.90"/><line x1="370.90" y1="167.82" x2="365.90" y2="167.82" stroke-width="0.90"/><line x1="45.50" y1="163.39" x2="50.50" y2="163.39" stroke-width="0.90"/><line x1="370.90" y1="163.39" x2="365.90" y2="163.39" stroke-width="0.90"/><line x1="45.50" y1="159.78" x2="50.50" y2="159.78" stroke-width="0.90"/><line x1="370.90" y1="159.78" x2="365.90" y2="159.78" stroke-width="0.90"/><line x1="45.50" y1="156.72" x2="50.50" y2="156.72" stroke-width="0.90"/><line x1="370.90" y1="156.72" x2="365.90" y2="156.72" stroke-width="0.90"/><line x1="45.50" y1="154.07" x2="50.50" y2="154.07" stroke-width="0.90"/><line x1="370.90" y1="154.07" x2="365.90" y2="154.07" stroke-width="0.90"/><line x1="45.50" y1="151.74" x2="50.50" y2="151.74" stroke-width="0.90"/><line x1="370.90" y1="151.74" x2="365.90" y2="151.74" stroke-width="0.90"/><line x1="45.50" y1="149.65" x2="56.50" y2="149.65" stroke-width="0.90"/><line x1="370.90" y1="149.65" x2="359.90" y2="149.65" stroke-width="0.90"/><line x1="45.50" y1="135.91" x2="50.50" y2="135.91" stroke-width="0.90"/><line x1="370.90" y1="135.91" x2="365.90" y2="135.91" stroke-width="0.90"/><line x1="45.50" y1="127.87" x2="50.50" y2="127.87" stroke-width="0.90"/><line x1="370.90" y1="127.87" x2="365.90" y2="127.87" stroke-width="0.90"/><line x1="45.50" y1="122.17" x2="50.50" y2="122.17" stroke-width="0.90"/><line x1="370.90" y1="122.17" x2="365.90" y2="122.17" stroke-width="0.90"/><line x1="45.50" y1="117.74" x2="50.50" y2="117.74" stroke-width="0.90"/><line x1="370.90" y1="117.74" x2="365.90" y2="117.74" stroke-width="0.90"/><line x1="45.50" y1="114.13" x2="50.50" y2="114.13" stroke-width="0.90"/><line x1="370.90" y1="114.13" x2="365.90" y2="114.13" stroke-width="0.90"/><line x1="45.50" y1="111.07" x2="50.50" y2="111.07" stroke-width="0.90"/><line x1="370.90" y1="111.07" x2="365.90" y2="111.07" stroke-width="0.90"/><line x1="45.50" y1="108.42" x2="50.50" y2="108.42" stroke-width="0.90"/><line x1="370.90" y1="108.42" x2="365.90" y2="108.42" stroke-width="0.90"/><line x1="45.50" y1="106.09" x2="50.50" y2="106.09" stroke-width="0.90"/><line x1="370.90" y1="106.09" x2="365.90" y2="106.09" stroke-width="0.90"/><line x1="45.50" y1="104.00" x2="56.50" y2="104.00" stroke-width="0.90"/><line x1="370.90" y1="104.00" x2="359.90" y2="104.00" stroke-width="0.90"/><line x1="45.50" y1="90.26" x2="50.50" y2="90.26" stroke-width="0.90"/><line x1="370.90" y1="90.26" x2="365.90" y2="90.26" stroke-width="0.90"/><line x1="45.50" y1="82.22" x2="50.50" y2="82.22" stroke-width="0.90"/><line x1="370.90" y1="82.22" x2="365.90" y2="82.22" stroke-width="0.90"/><line x1="45.50" y1="76.52" x2="50.50" y2="76.52" stroke-width="0.90"/><line x1="370.90" y1="76.52" x2="365.90" y2="76.52" stroke-width="0.90"/><line x1="45.50" y1="72.09" x2="50.50" y2="72.09" stroke-width="0.90"/><line x1="370.90" y1="72.09" x2="365.90" y2="72.09" stroke-width="0.90"/><line x1="45.50" y1="68.48" x2="50.50" y2="68.48" stroke-width="0.90"/><line x1="370.90" y1="68.48" x2="365.90" y2="68.48" stroke-width="0.90"/><line x1="45.50" y1="65.42" x2="50.50" y2="65.42" stroke-width="0.90"/><line x1="370.90" y1="65.42" x2="365.90" y2="65.42" stroke-width="0.90"/><line x1="45.50" y1="62.77" x2="50.50" y2="62.77" stroke-width="0.90"/><line x1="370.90" y1="62.77" x2="365.90" y2="62.77" stroke-width="0.90"/><line x1="45.50" y1="60.44" x2="50.50" y2="60.44" stroke-width="0.90"/><line x1="370.90" y1="60.44" x2="365.90" y2="60.44" stroke-width="0.90"/><line x1="45.50" y1="58.35" x2="56.50" y2="58.35" stroke-width="0.90"/><line x1="370.90" y1="58.35" x2="359.90" y2="58.35" stroke-width="0.90"/><line x1="45.50" y1="44.61" x2="50.50" y2="44.61" stroke-width="0.90"/><line x1="370.90" y1="44.61" x2="365.90" y2="44.61" stroke-width="0.90"/><line x1="45.50" y1="36.57" x2="50.50" y2="36.57" stroke-width="0.90"/><line x1="370.90" y1="36.57" x2="365.90" y2="36.57" stroke-width="0.90"/><line x1="45.50" y1="30.87" x2="50.50" y2="30.87" stroke-width="0.90"/><line x1="370.90" y1="30.87" x2="365.90" y2="30.87" stroke-width="0.90"/><line x1="45.50" y1="26.44" x2="50.50" y2="26.44" stroke-width="0.90"/><line x1="370.90" y1="26.44" x2="365.90" y2="26.44" stroke-width="0.90"/><line x1="45.50" y1="22.83" x2="50.50" y2="22.83" stroke-width="0.90"/><line x1="370.90" y1="22.83" x2="365.90" y2="22.83" stroke-width="0.90"/><line x1="45.50" y1="19.77" x2="50.50" y2="19.77" stroke-width="0.90"/><line x1="370.90" y1="19.77" x2="365.90" y2="19.77" stroke-width="0.90"/><line x1="45.50" y1="458.30" x2="52.50" y2="458.30" stroke-width="0.90"/><line x1="370.90" y1="458.30" x2="363.90" y2="458.30" stroke-width="0.90"/><line x1="45.50" y1="442.36" x2="50.50" y2="442.36" stroke-width="0.90"/><line x1="370.90" y1="442.36" x2="365.90" y2="442.36" stroke-width="0.90"/><line x1="45.50" y1="428.88" x2="50.50" y2="428.88" stroke-width="0.90"/><line x1="370.90" y1="428.88" x2="365.90" y2="428.88" stroke-width="0.90"/><line x1="45.50" y1="417.21" x2="50.50" y2="417.21" stroke-width="0.90"/><line x1="370.90" y1="417.21" x2="365.90" y2="417.21" stroke-width="0.90"/><line x1="45.50" y1="406.91" x2="50.50" y2="406.91" stroke-width="0.90"/><line x1="370.90" y1="406.91" x2="365.90" y2="406.91" stroke-width="0.90"/><line x1="45.50" y1="397.70" x2="52.50" y2="397.70" stroke-width="0.90"/><line x1="370.90" y1="397.70" x2="363.90" y2="397.70" stroke-width="0.90"/><line x1="45.50" y1="389.37" x2="50.50" y2="389.37" stroke-width="0.90"/><line x1="370.90" y1="389.37" x2="365.90" y2="389.37" stroke-width="0.90"/><line x1="45.50" y1="381.76" x2="50.50" y2="381.76" stroke-width="0.90"/><line x1="370.90" y1="381.76" x2="365.90" y2="381.76" stroke-width="0.90"/><line x1="45.50" y1="374.76" x2="50.50" y2="374.76" stroke-width="0.90"/><line x1="370.90" y1="374.76" x2="365.90" y2="374.76" stroke-width="0.90"/><line x1="45.50" y1="368.28" x2="50.50" y2="368.28" stroke-width="0.90"/><line x1="370.90" y1="368.28" x2="365.90" y2="368.28" stroke-width="0.90"/><line x1="45.50" y1="362.25" x2="52.50" y2="362.25" stroke-width="0.90"/><line x1="370.90" y1="362.25" x2="363.90" y2="362.25" stroke-width="0.90"/><line x1="45.50" y1="356.61" x2="50.50" y2="356.61" stroke-width="0.90"/><line x1="370.90" y1="356.61" x2="365.90" y2="356.61" stroke-width="0.90"/><line x1="45.50" y1="351.31" x2="50.50" y2="351.31" stroke-width="0.90"/><line x1="370.90" y1="351.31" x2="365.90" y2="351.31" stroke-width="0.90"/><line x1="45.50" y1="346.31" x2="50.50" y2="346.31" stroke-width="0.90"/><line x1="370.90" y1="346.31" x2="365.90" y2="346.31" stroke-width="0.90"/><line x1="45.50" y1="341.59" x2="50.50" y2="341.59" stroke-width="0.90"/><line x1="370.90" y1="341.59" x2="365.90" y2="341.59" stroke-width="0.90"/><line x1="45.50" y1="337.10" x2="52.50" y2="337.10" stroke-width="0.90"/><line x1="370.90" y1="337.10" x2="363.90" y2="337.10" stroke-width="0.90"/><line x1="45.50" y1="332.84" x2="50.50" y2="332.84" stroke-width="0.90"/><line x1="370.90" y1="332.84" x2="365.90" y2="332.84" stroke-width="0.90"/><line x1="45.50" y1="328.77" x2="50.50" y2="328.77" stroke-width="0.90"/><line x1="370.90" y1="328.77" x2="365.90" y2="328.77" stroke-width="0.90"/><line x1="45.50" y1="324.88" x2="50.50" y2="324.88" stroke-width="0.90"/><line x1="370.90" y1="324.88" x2="365.90" y2="324.88" stroke-width="0.90"/><line x1="45.50" y1="321.16" x2="50.50" y2="321.16" stroke-width="0.90"/><line x1="370.90" y1="321.16" x2="365.90" y2="321.16" stroke-width="0.90"/><line x1="61.86" y1="17.50" x2="61.86" y2="19.50" stroke-width="0.90"/><line x1="61.86" y1="317.40" x2="61.86" y2="315.40" stroke-width="0.90"/><line x1="61.86" y1="317.40" x2="61.86" y2="318.90" stroke-width="0.90"/><line x1="61.86" y1="477.60" x2="61.86" y2="476.10" stroke-width="0.90"/><line x1="77.82" y1="17.50" x2="77.82" y2="21.50" stroke-width="0.90"/><line x1="77.82" y1="317.40" x2="77.82" y2="313.40" stroke-width="0.90"/><line x1="77.82" y1="317.40" x2="77.82" y2="320.40" stroke-width="0.90"/><line x1="77.82" y1="477.60" x2="77.82" y2="474.60" stroke-width="0.90"/><line x1="93.78" y1="17.50" x2="93.78" y2="19.50" stroke-width="0.90"/><line x1="93.78" y1="317.40" x2="93.78" y2="315.40" stroke-width="0.90"/><line x1="93.78" y1="317.40" x2="93.78" y2="318.90" stroke-width="0.90"/><line x1="93.78" y1="477.60" x2="93.78" y2="476.10" stroke-width="0.90"/><line x1="109.74" y1="17.50" x2="109.74" y2="21.50" stroke-width="0.90"/><line x1="109.74" y1="317.40" x2="109.74" y2="313.40" stroke-width="0.90"/><line x1="109.74" y1="317.40" x2="109.74" y2="320.40" stroke-width="0.90"/><line x1="109.74" y1="477.60" x2="109.74" y2="474.60" stroke-width="0.90"/><line x1="125.70" y1="17.50" x2="125.70" y2="19.50" stroke-width="0.90"/><line x1="125.70" y1="317.40" x2="125.70" y2="315.40" stroke-width="0.90"/><line x1="125.70" y1="317.40" x2="125.70" y2="318.90" stroke-width="0.90"/><line x1="125.70" y1="477.60" x2="125.70" y2="476.10" stroke-width="0.90"/><line x1="141.66" y1="17.50" x2="141.66" y2="21.50" stroke-width="0.90"/><line x1="141.66" y1="317.40" x2="141.66" y2="313.40" stroke-width="0.90"/><line x1="141.66" y1="317.40" x2="141.66" y2="320.40" stroke-width="0.90"/><line x1="141.66" y1="477.60" x2="141.66" y2="474.60" stroke-width="0.90"/><line x1="157.62" y1="17.50" x2="157.62" y2="19.50" stroke-width="0.90"/><line x1="157.62" y1="317.40" x2="157.62" y2="315.40" stroke-width="0.90"/><line x1="157.62" y1="317.40" x2="157.62" y2="318.90" stroke-width="0.90"/><line x1="157.62" y1="477.60" x2="157.62" y2="476.10" stroke-width="0.90"/><line x1="173.58" y1="17.50" x2="173.58" y2="21.50" stroke-width="0.90"/><line x1="173.58" y1="317.40" x2="173.58" y2="313.40" stroke-width="0.90"/><line x1="173.58" y1="317.40" x2="173.58" y2="320.40" stroke-width="0.90"/><line x1="173.58" y1="477.60" x2="173.58" y2="474.60" stroke-width="0.90"/><line x1="189.54" y1="17.50" x2="189.54" y2="19.50" stroke-width="0.90"/><line x1="189.54" y1="317.40" x2="189.54" y2="315.40" stroke-width="0.90"/><line x1="189.54" y1="317.40" x2="189.54" y2="318.90" stroke-width="0.90"/><line x1="189.54" y1="477.60" x2="189.54" y2="476.10" stroke-width="0.90"/><line x1="205.50" y1="17.50" x2="205.50" y2="25.50" stroke-width="0.90"/><line x1="205.50" y1="317.40" x2="205.50" y2="309.40" stroke-width="0.90"/><line x1="205.50" y1="317.40" x2="205.50" y2="322.40" stroke-width="0.90"/><line x1="205.50" y1="477.60" x2="205.50" y2="472.60" stroke-width="0.90"/><line x1="221.46" y1="17.50" x2="221.46" y2="19.50" stroke-width="0.90"/><line x1="221.46" y1="317.40" x2="221.46" y2="315.40" stroke-width="0.90"/><line x1="221.46" y1="317.40" x2="221.46" y2="318.90" stroke-width="0.90"/><line x1="221.46" y1="477.60" x2="221.46" y2="476.10" stroke-width="0.90"/><line x1="237.42" y1="17.50" x2="237.42" y2="21.50" stroke-width="0.90"/><line x1="237.42" y1="317.40" x2="237.42" y2="313.40" stroke-width="0.90"/><line x1="237.42" y1="317.40" x2="237.42" y2="320.40" stroke-width="0.90"/><line x1="237.42" y1="477.60" x2="237.42" y2="474.60" stroke-width="0.90"/><line x1="253.38" y1="17.50" x2="253.38" y2="19.50" stroke-width="0.90"/><line x1="253.38" y1="317.40" x2="253.38" y2="315.40" stroke-width="0.90"/><line x1="253.38" y1="317.40" x2="253.38" y2="318.90" stroke-width="0.90"/><line x1="253.38" y1="477.60" x2="253.38" y2="476.10" stroke-width="0.90"/><line x1="269.34" y1="17.50" x2="269.34" y2="21.50" stroke-width="0.90"/><line x1="269.34" y1="317.40" x2="269.34" y2="313.40" stroke-width="0.90"/><line x1="269.34" y1="317.40" x2="269.34" y2="320.40" stroke-width="0.90"/><line x1="269.34" y1="477.60" x2="269.34" y2="474.60" stroke-width="0.90"/><line x1="285.30" y1="17.50" x2="285.30" y2="19.50" stroke-width="0.90"/><line x1="285.30" y1="317.40" x2="285.30" y2="315.40" stroke-width="0.90"/><line x1="285.30" y1="317.40" x2="285.30" y2="318.90" stroke-width="0.90"/><line x1="285.30" y1="477.60" x2="285.30" y2="476.10" stroke-width="0.90"/><line x1="301.26" y1="17.50" x2="301.26" y2="21.50" stroke-width="0.90"/><line x1="301.26" y1="317.40" x2="301.26" y2="313.40" stroke-width="0.90"/><line x1="301.26" y1="317.40" x2="301.26" y2="320.40" stroke-width="0.90"/><line x1="301.26" y1="477.60" x2="301.26" y2="474.60" stroke-width="0.90"/><line x1="317.22" y1="17.50" x2="317.22" y2="19.50" stroke-width="0.90"/><line x1="317.22" y1="317.40" x2="317.22" y2="315.40" stroke-width="0.90"/><line x1="317.22" y1="317.40" x2="317.22" y2="318.90" stroke-width="0.90"/><line x1="317.22" y1="477.60" x2="317.22" y2="476.10" stroke-width="0.90"/><line x1="333.18" y1="17.50" x2="333.18" y2="21.50" stroke-width="0.90"/><line x1="333.18" y1="317.40" x2="333.18" y2="313.40" stroke-width="0.90"/><line x1="333.18" y1="317.40" x2="333.18" y2="320.40" stroke-width="0.90"/><line x1="333.18" y1="477.60" x2="333.18" y2="474.60" stroke-width="0.90"/><line x1="349.14" y1="17.50" x2="349.14" y2="19.50" stroke-width="0.90"/><line x1="349.14" y1="317.40" x2="349.14" y2="315.40" stroke-width="0.90"/><line x1="349.14" y1="317.40" x2="349.14" y2="318.90" stroke-width="0.90"/><line x1="349.14" y1="477.60" x2="349.14" y2="476.10" stroke-width="0.90"/><line x1="365.10" y1="17.50" x2="365.10" y2="25.50" stroke-width="0.90"/><line x1="365.10" y1="317.40" x2="365.10" y2="309.40" stroke-width="0.90"/><line x1="365.10" y1="317.40" x2="365.10" y2="322.40" stroke-width="0.90"/><line x1="365.10" y1="477.60" x2="365.10" y2="472.60" stroke-width="0.90"/></g>
<path d="M38.30,55.30 L38.30,62.70 M38.30,55.70 L35.40,57.60" stroke="#000" stroke-width="1.15" fill="none"/>
<path d="M36.60,394.10 L36.60,401.90 M36.60,394.50 L33.70,396.40" stroke="#000" stroke-width="1.15" fill="none"/>
<path d="M377.60,394.60 L377.60,402.70 M377.60,395.00 L374.70,396.90" stroke="#000" stroke-width="1.15" fill="none"/>
<path d="M24.30,101.90 L24.30,109.80 M24.30,102.30 L21.40,104.20" stroke="#000" stroke-width="1.15" fill="none"/>
<path d="M22.30,147.10 L22.30,154.90 M22.30,147.50 L19.40,149.40" stroke="#000" stroke-width="1.15" fill="none"/>
<path d="M22.30,192.90 L22.30,200.90 M22.30,193.30 L19.40,195.20" stroke="#000" stroke-width="1.15" fill="none"/>
<path d="M22.30,239.10 L22.30,246.90 M22.30,239.50 L19.40,241.40" stroke="#000" stroke-width="1.15" fill="none"/>
<path d="M22.30,284.30 L22.30,292.20 M22.30,284.70 L19.40,286.60" stroke="#000" stroke-width="1.15" fill="none"/>
<path d="M362.40,480.80 L362.40,488.80 M362.40,481.20 L359.50,483.10" stroke="#000" stroke-width="1.15" fill="none"/>
<path d="M39.30,100.70 L39.30,104.90 M39.30,101.00 L37.70,102.00" stroke="#000" stroke-width="0.9" fill="none"/>
<line x1="33.20" y1="102.80" x2="37.20" y2="102.80" stroke="#555" stroke-width="1.1"/>
<line x1="31.20" y1="148.05" x2="34.90" y2="148.05" stroke="#555" stroke-width="1.1"/>
<line x1="31.20" y1="193.40" x2="34.90" y2="193.40" stroke="#555" stroke-width="1.1"/>
<line x1="31.20" y1="239.80" x2="34.90" y2="239.80" stroke="#555" stroke-width="1.1"/>
<line x1="31.20" y1="284.60" x2="34.90" y2="284.60" stroke="#555" stroke-width="1.1"/>
<text x="51.16" y="13.30" font-family="'Liberation Sans', sans-serif" font-size="11.50" fill="#000" textLength="77.74" lengthAdjust="spacingAndGlyphs">13000 GeV pp</text>
<text x="314.39" y="13.00" font-family="'Liberation Sans', sans-serif" font-size="11.50" fill="#000" textLength="51.53" lengthAdjust="spacingAndGlyphs">Soft QCD</text>
<text x="147.00" y="43.90" font-family="'Liberation Sans', sans-serif" font-size="11.00" fill="#000" textLength="38.34" lengthAdjust="spacingAndGlyphs">ALICE,</text>
<text x="189.65" y="43.50" font-family="'Liberation Sans', sans-serif" font-size="11.00" fill="#000" textLength="12.96" lengthAdjust="spacingAndGlyphs">13</text>
<text x="207.25" y="43.50" font-family="'Liberation Sans', sans-serif" font-size="11.00" fill="#000" textLength="23.93" lengthAdjust="spacingAndGlyphs">TeV,</text>
<text x="232.36" y="45.10" font-family="'Liberation Serif', serif" font-size="11.50" fill="#000">Λ</text>
<text x="243.33" y="45.59" font-family="'Liberation Sans', sans-serif" font-size="11.00" fill="#000">+</text>
<text x="253.01" y="45.80" font-family="'Liberation Mono', monospace" font-size="12.50" fill="#000">#</text>
<text x="260.82" y="45.10" font-family="'Liberation Serif', serif" font-size="11.50" fill="#000">Λ</text>
<text x="26.79" y="109.40" font-family="'Liberation Sans', sans-serif" font-size="11.50" fill="#000">0</text>
<text x="24.79" y="155.00" font-family="'Liberation Sans', sans-serif" font-size="11.50" fill="#000">0</text>
<text x="24.79" y="200.40" font-family="'Liberation Sans', sans-serif" font-size="11.50" fill="#000">0</text>
<text x="24.79" y="247.00" font-family="'Liberation Sans', sans-serif" font-size="11.50" fill="#000">0</text>
<text x="24.79" y="292.60" font-family="'Liberation Sans', sans-serif" font-size="11.50" fill="#000">0</text>
<text x="364.94" y="489.00" font-family="'Liberation Sans', sans-serif" font-size="11.50" fill="#000">0</text>
<text x="35.11" y="149.80" font-family="'Liberation Sans', sans-serif" font-size="8.00" fill="#000">2</text>
<text x="34.36" y="194.90" font-family="'Liberation Sans', sans-serif" font-size="8.00" fill="#000">3</text>
<text x="34.53" y="241.80" font-family="'Liberation Sans', sans-serif" font-size="8.00" fill="#000">4</text>
<text x="34.86" y="287.00" font-family="'Liberation Sans', sans-serif" font-size="8.00" fill="#000">5</text>
<text x="31.84" y="340.50" font-family="'Liberation Sans', sans-serif" font-size="11.50" fill="#000">2</text>
<text x="22.16" y="462.10" font-family="'Liberation Sans', sans-serif" font-size="11.20" fill="#000" textLength="15.81" lengthAdjust="spacingAndGlyphs">0.5</text>
<text x="373.48" y="340.80" font-family="'Liberation Sans', sans-serif" font-size="11.50" fill="#000">2</text>
<text x="373.56" y="461.50" font-family="'Liberation Sans', sans-serif" font-size="11.20" fill="#000" textLength="16.68" lengthAdjust="spacingAndGlyphs">0.5</text>
<text x="42.99" y="488.40" font-family="'Liberation Sans', sans-serif" font-size="11.50" fill="#000">0</text>
<text x="202.07" y="488.80" font-family="'Liberation Sans', sans-serif" font-size="11.50" fill="#000">5</text>
<text x="325.16" y="500.50" font-family="'Liberation Sans', sans-serif" font-size="12.00" fill="#000">p</text>
<text x="331.68" y="507.70" font-family="'Liberation Sans', sans-serif" font-size="8.50" fill="#000">T</text>
<text x="340.81" y="499.80" font-family="'Liberation Sans', sans-serif" font-size="11.20" fill="#000" textLength="31.73" lengthAdjust="spacingAndGlyphs">[GeV]</text>
<text x="94.11" y="236.20" font-family="'Liberation Sans', sans-serif" font-size="9.20" fill="#000" textLength="26.82" lengthAdjust="spacingAndGlyphs">ALICE</text>
<text x="93.94" y="250.30" font-family="'Liberation Sans', sans-serif" font-size="9.20" fill="#000" textLength="93.71" lengthAdjust="spacingAndGlyphs">Herwig++ 2.7.1 default</text>
<text x="93.94" y="262.90" font-family="'Liberation Sans', sans-serif" font-size="9.20" fill="#000" textLength="83.47" lengthAdjust="spacingAndGlyphs">Herwig 7.2.1 default</text>
<text x="94.20" y="276.00" font-family="'Liberation Sans', sans-serif" font-size="9.20" fill="#000" textLength="83.10" lengthAdjust="spacingAndGlyphs">Pythia 8.315 default</text>
<text x="163.40" y="301.10" font-family="'Liberation Sans', sans-serif" font-size="8.00" fill="#a0a0a0" textLength="87.81" lengthAdjust="spacingAndGlyphs">(ALICE_2020_I1797443)</text>
<text transform="translate(380.30,127.13) rotate(-90)" font-family="'Liberation Sans', sans-serif" font-size="8.60" fill="#707070" textLength="109.89" lengthAdjust="spacingAndGlyphs">Rivet 4.1.0, ≥ 2.2M events</text>
<text transform="translate(380.70,313.81) rotate(-90)" font-family="'Liberation Sans', sans-serif" font-size="8.60" fill="#707070" textLength="142.46" lengthAdjust="spacingAndGlyphs">mcplots.cern.ch [arXiv:1306.3436]</text>
<text transform="translate(14.80,149.08) rotate(-90)" font-family="'Liberation Sans', sans-serif" font-size="11.00" fill="#000" textLength="20.37" lengthAdjust="spacingAndGlyphs">1/N</text>
<text transform="translate(16.00,127.83) rotate(-90)" font-family="'Liberation Sans', sans-serif" font-size="12.50" fill="#000">×</text>
<text transform="translate(14.80,117.09) rotate(-90)" font-family="'Liberation Sans', sans-serif" font-size="11.00" fill="#000">d</text>
<text transform="translate(9.80,111.33) rotate(-90)" font-family="'Liberation Sans', sans-serif" font-size="9.00" fill="#000">2</text>
<text transform="translate(14.80,106.16) rotate(-90)" font-family="'Liberation Sans', sans-serif" font-size="11.00" fill="#000" textLength="20.39" lengthAdjust="spacingAndGlyphs">/(dp</text>
<text transform="translate(21.10,85.06) rotate(-90)" font-family="'Liberation Sans', sans-serif" font-size="8.00" fill="#000">T</text>
<text transform="translate(14.80,77.21) rotate(-90)" font-family="'Liberation Sans', sans-serif" font-size="11.00" fill="#000" textLength="17.70" lengthAdjust="spacingAndGlyphs">dy)</text>
<text transform="translate(14.80,56.45) rotate(-90)" font-family="'Liberation Sans', sans-serif" font-size="11.00" fill="#000" textLength="42.01" lengthAdjust="spacingAndGlyphs">[1/GeV]</text>
<text transform="translate(18.38,426.36) rotate(-90)" font-family="'Liberation Sans', sans-serif" font-size="9.00" fill="#000" textLength="58.75" lengthAdjust="spacingAndGlyphs">Ratio to ALICE</text>
<line x1="260.5" y1="35.6" x2="269.1" y2="35.6" stroke="#000" stroke-width="0.9"/>
<rect x="73.75" y="230.95" width="5.7" height="5.7" fill="#000"/>
<line x1="64.1" y1="246.80" x2="88.5" y2="246.80" stroke="#b05a00" stroke-width="0.9" stroke-dasharray="2.4,1.5"/>
<line x1="64.1" y1="260.00" x2="88.5" y2="260.00" stroke="#3a9a10" stroke-width="0.9" stroke-dasharray="2.4,1.5"/>
<line x1="64.1" y1="272.80" x2="88.5" y2="272.80" stroke="#0000ff" stroke-width="0.9"/>
<circle cx="76.7" cy="246.80" r="2.6" fill="#fff" stroke="#b05a00" stroke-width="1.1"/>
<rect x="74.00" y="257.30" width="5.4" height="5.4" fill="#fff" stroke="#3a9a10" stroke-width="1.1"/>
<path d="M76.6,270.00 L79.5,275.10 L73.7,275.10 Z" fill="#0000ff"/>
</svg>
</body></html>
